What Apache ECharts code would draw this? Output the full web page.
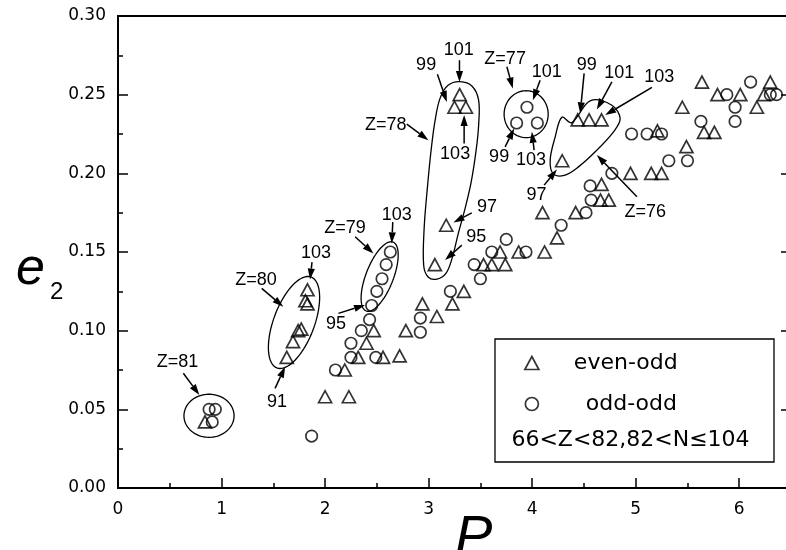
<!DOCTYPE html>
<html><head><meta charset="utf-8">
<script src="https://cdn.jsdelivr.net/npm/echarts@6/dist/echarts.min.js"></script>
<style>html,body{margin:0;padding:0;overflow:hidden;background:#fff}#c{width:800px;height:550px}</style>
</head><body><div id="c"></div><script>
// ---- data (P, e2) ----
const evenOdd = [
  [0.84,0.042],
  [1.83,0.126],[1.81,0.119],[1.83,0.117],[1.77,0.101],[1.74,0.100],[1.69,0.093],[1.63,0.083],
  [2.47,0.100],[2.40,0.092],[2.32,0.083],[2.56,0.083],[2.19,0.075],[2.00,0.058],[2.23,0.058],
  [2.72,0.084],[2.78,0.100],[2.94,0.117],[3.08,0.109],[3.23,0.117],[3.34,0.125],
  [3.17,0.167],[3.06,0.142],[3.30,0.250],[3.25,0.242],[3.36,0.242],
  [3.53,0.142],[3.61,0.142],[3.74,0.142],[3.69,0.150],[3.87,0.150],[4.12,0.150],[4.24,0.159],
  [4.10,0.175],[4.42,0.175],
  [4.29,0.208],[4.44,0.234],[4.55,0.234],[4.67,0.234],
  [4.67,0.193],[4.66,0.183],[4.74,0.183],[4.95,0.200],[5.15,0.200],[5.25,0.200],
  [5.49,0.217],[5.21,0.227],[5.66,0.226],[5.76,0.226],[5.45,0.242],[5.64,0.258],
  [5.79,0.250],[6.01,0.250],[6.17,0.242],[6.30,0.258],[6.24,0.250]
];
const oddOdd = [
  [0.88,0.050],[0.94,0.050],[0.91,0.042],
  [2.63,0.150],[2.59,0.142],[2.55,0.133],[2.50,0.125],[2.45,0.116],
  [2.43,0.107],[2.35,0.100],[2.25,0.092],[2.25,0.083],[2.49,0.083],[2.10,0.075],[1.87,0.033],
  [2.92,0.108],[2.92,0.099],[3.21,0.125],[3.44,0.142],[3.50,0.133],[3.61,0.150],[3.75,0.158],
  [3.94,0.150],[4.28,0.167],[4.52,0.175],[4.56,0.192],[4.57,0.183],
  [3.95,0.242],[3.85,0.232],[4.05,0.232],
  [4.77,0.200],[4.96,0.225],[5.11,0.225],[5.25,0.225],[5.32,0.208],[5.50,0.208],
  [5.63,0.233],[5.88,0.250],[5.96,0.242],[5.96,0.233],[6.11,0.258],[6.30,0.250],[6.36,0.250]
];
const seriesNames = ['even-odd','odd-odd'];
const yTickLabels = ['0.00','0.05','0.10','0.15','0.20','0.25','0.30'];
const xTickLabels = ['0','1','2','3','4','5','6'];
const noteText = '66<Z<82,82<N≤104';

// annotation ellipses: center P, center e2, semi-axis end P, e2, minor/major ratio
const ellipses = [
  [0.879,0.0459, 1.121,0.0459, 0.86],   // Z=81
  [1.700,0.1052, 1.865,0.1341, 0.42],   // Z=80
  [2.527,0.1344, 2.657,0.1563, 0.37],   // Z=79
  [3.942,0.2376, 3.942,0.2525, 0.94]    // Z=77
];
// free-form loops (P,e2 outline points)
const loopZ78 = [[3.304,0.2583],[3.420,0.2554],[3.483,0.2465],[3.483,0.2306],[3.459,0.2147],[3.411,0.1944],
  [3.353,0.1779],[3.285,0.1614],[3.227,0.1461],[3.169,0.1366],[3.082,0.1328],[2.995,0.1341],
  [2.952,0.1417],[2.957,0.1652],[2.986,0.1893],[3.024,0.2147],[3.063,0.2338],[3.111,0.2478],[3.188,0.2560]];
const loopZ76 = [[4.383,0.2322],[4.560,0.2461],[4.770,0.2433],[4.850,0.2348],[4.786,0.2264],
  [4.609,0.2137],[4.447,0.2041],[4.319,0.1989],[4.206,0.1995],[4.174,0.2084],[4.222,0.2230],[4.287,0.2357]];
const loops = [loopZ78, loopZ76];
// arrows: from P,e2 -> to P,e2
const arrows = [
  [0.631,0.0729,0.786,0.0591],
  [1.388,0.1269,1.597,0.1152],[1.874,0.1436,1.855,0.1325],[1.517,0.0633,1.614,0.0771],
  [2.290,0.1597,2.467,0.1491],[2.654,0.1690,2.644,0.1555],[2.129,0.1110,2.386,0.1163],
  [2.789,0.2313,2.998,0.2211],[3.085,0.2630,3.176,0.2454],[3.298,0.2719,3.298,0.2581],
  [3.343,0.2190,3.343,0.2370],[3.417,0.1749,3.240,0.1688],[3.321,0.1544,3.159,0.1449],
  [3.756,0.2677,3.813,0.2539],[4.077,0.2592,4.007,0.2465],[3.739,0.2168,3.826,0.2285],[4.019,0.2147,3.997,0.2264],
  [4.502,0.2635,4.464,0.2381],[4.770,0.2581,4.625,0.2406],[5.157,0.2546,4.705,0.2370],
  [4.116,0.1925,4.239,0.2025],[5.012,0.1851,4.625,0.2116]
];
const labelText = ['Z=81','Z=80','103','91','Z=79','103','95','Z=78','99','101','103','97','95',
  'Z=77','101','99','103','99','101','103','97','Z=76'];
const labelPos = [[0.575,0.0801],[1.333,0.1321],[1.913,0.1493],[1.536,0.0546],[2.193,0.1652],[2.693,0.1738],
  [2.106,0.1045],[2.585,0.2306],[2.976,0.2687],[3.290,0.2783],[3.256,0.2122],[3.565,0.1785],[3.459,0.1595],
  [3.739,0.2729],[4.140,0.2646],[3.681,0.2103],[3.990,0.2084],[4.527,0.2687],[4.841,0.2637],[5.227,0.2611],
  [4.043,0.1861],[5.092,0.1757]];

const FONT = 'Liberation Sans, Arial, Helvetica, sans-serif';
const WFONT = 'DejaVu Sans, sans-serif';
const chart = echarts.init(document.getElementById('c'), null, {renderer:'canvas'});
const hollow = {color:'rgba(0,0,0,0)', borderColor:'#000', borderWidth:1.7};

const axisCommon = {
  axisLine:{show:true, onZero:false, lineStyle:{color:'#000', width:2}},
  splitLine:{show:false}
};
chart.setOption({
  animation:false,
  backgroundColor:'#fff',
  grid:{left:118, top:16, right:9, bottom:62, containLabel:false},
  xAxis:[
    Object.assign({type:'value', min:0, max:6.5, interval:1, position:'bottom',
      axisTick:{inside:true, length:10, lineStyle:{width:1.5, color:'#000'}},
      minorTick:{show:true, splitNumber:2, length:5, lineStyle:{width:1.5, color:'#000'}},
      axisLabel:{margin:13, color:'#000', fontSize:17, fontFamily:WFONT, showMaxLabel:false,
        formatter:(v)=>{const i=xTickLabels.indexOf(String(v)); return i>=0?xTickLabels[i]:'';}}}, axisCommon),
    Object.assign({type:'value', min:0, max:6.5, interval:1, position:'top',
      axisTick:{show:false}, axisLabel:{show:false}}, axisCommon)
  ],
  yAxis:[
    Object.assign({type:'value', min:0, max:0.30, interval:0.05, position:'left',
      axisTick:{inside:true, length:10, lineStyle:{width:1.5, color:'#000'}},
      minorTick:{show:true, splitNumber:2, length:5, lineStyle:{width:1.5, color:'#000'}},
      axisLabel:{margin:12, color:'#000', fontSize:17, fontFamily:WFONT,
        formatter:(v)=>yTickLabels[Math.round(v/0.05)]}}, axisCommon),
    Object.assign({type:'value', min:0, max:0.30, interval:0.05, position:'right',
      axisTick:{inside:true, length:10, lineStyle:{width:1.5, color:'#000'}},
      minorTick:{show:true, splitNumber:2, length:5, lineStyle:{width:1.5, color:'#000'}},
      axisLabel:{show:false}}, axisCommon)
  ],
  legend:{
    orient:'vertical', left:524, top:351, itemWidth:14, itemHeight:13, itemGap:17, padding:0,
    selectedMode:false,
    textStyle:{fontFamily:WFONT, fontSize:22, color:'#000', lineHeight:24},
    data:[
      {name:seriesNames[0], icon:'triangle', itemStyle:hollow, textStyle:{padding:[0,0,0,30]}},
      {name:seriesNames[1], icon:'circle', itemStyle:hollow, textStyle:{padding:[0,0,0,42]}}
    ]
  },
  graphic:[
    {type:'rect', shape:{x:495, y:339, width:279, height:123}, style:{fill:'none', stroke:'#000', lineWidth:1.3}, z:100},
    {type:'text', x:630.5, y:440, style:{text:noteText, font:'22px '+WFONT, fill:'#000', textAlign:'center', textVerticalAlign:'middle'}, z:100},
    {type:'text', x:16, y:270, style:{text:'e', font:'italic 52px '+FONT, fill:'#000', textAlign:'left', textVerticalAlign:'middle'}, z:100},
    {type:'text', x:50, y:292, style:{text:'2', font:'24px '+FONT, fill:'#000', textAlign:'left', textVerticalAlign:'middle'}, z:100},
    {type:'text', x:455, y:538, style:{text:'P', font:'italic 56px '+FONT, fill:'#000', textAlign:'left', textVerticalAlign:'middle'}, z:100}
  ],
  series:[
    {name:seriesNames[0], type:'scatter', symbol:'triangle', symbolSize:[13,12], itemStyle:hollow, data:evenOdd, z:5},
    {name:seriesNames[1], type:'scatter', symbol:'circle', symbolSize:11.5, itemStyle:hollow, data:oddOdd, z:5},
    {name:'ellipses', type:'custom', silent:true, z:4,
      data:ellipses,
      renderItem:(params, api)=>{
        const c = api.coord([api.value(0), api.value(1)]);
        const a = api.coord([api.value(2), api.value(3)]);
        const r = api.value(4);
        const ux=a[0]-c[0], uy=a[1]-c[1];
        const vx=-uy*r, vy=ux*r;
        const pts=[];
        for(let i=0;i<90;i++){const t=i/90*2*Math.PI; pts.push([c[0]+Math.cos(t)*ux+Math.sin(t)*vx, c[1]+Math.cos(t)*uy+Math.sin(t)*vy]);}
        return {type:'polygon', shape:{points:pts}, style:{fill:'none', stroke:'#000', lineWidth:1.3}};
      }},
    {name:'loops', type:'custom', silent:true, z:4,
      data:loops.map((l,i)=>[l[0][0], l[0][1], i]),
      renderItem:(params, api)=>{
        const pts = loops[api.value(2)].map(p=>api.coord(p));
        return {type:'polygon', shape:{points:pts, smooth:0.35}, style:{fill:'none', stroke:'#000', lineWidth:1.3}};
      }},
    {name:'arrows', type:'custom', silent:true, z:6,
      data:arrows,
      renderItem:(params, api)=>{
        const s = api.coord([api.value(0), api.value(1)]);
        const e = api.coord([api.value(2), api.value(3)]);
        const dx=e[0]-s[0], dy=e[1]-s[1], L=Math.hypot(dx,dy);
        const ux=dx/L, uy=dy/L, hl=11, hw=3.6;
        const bx=e[0]-ux*hl, by=e[1]-uy*hl;
        return {type:'group', children:[
          {type:'line', shape:{x1:s[0], y1:s[1], x2:bx, y2:by}, style:{stroke:'#000', lineWidth:1.5}},
          {type:'polygon', shape:{points:[[e[0],e[1]],[bx-uy*hw, by+ux*hw],[bx+uy*hw, by-ux*hw]]}, style:{fill:'#000'}}
        ]};
      }},
    {name:'labels', type:'custom', silent:true, z:6,
      data:labelPos.map((p,i)=>[p[0], p[1], i]),
      renderItem:(params, api)=>{
        const c = api.coord([api.value(0), api.value(1)]);
        return {type:'text', x:c[0], y:c[1], style:{text:labelText[api.value(2)], font:'18px '+FONT, fill:'#000', textAlign:'center', textVerticalAlign:'middle'}};
      }}
  ]
});
</script></body></html>
